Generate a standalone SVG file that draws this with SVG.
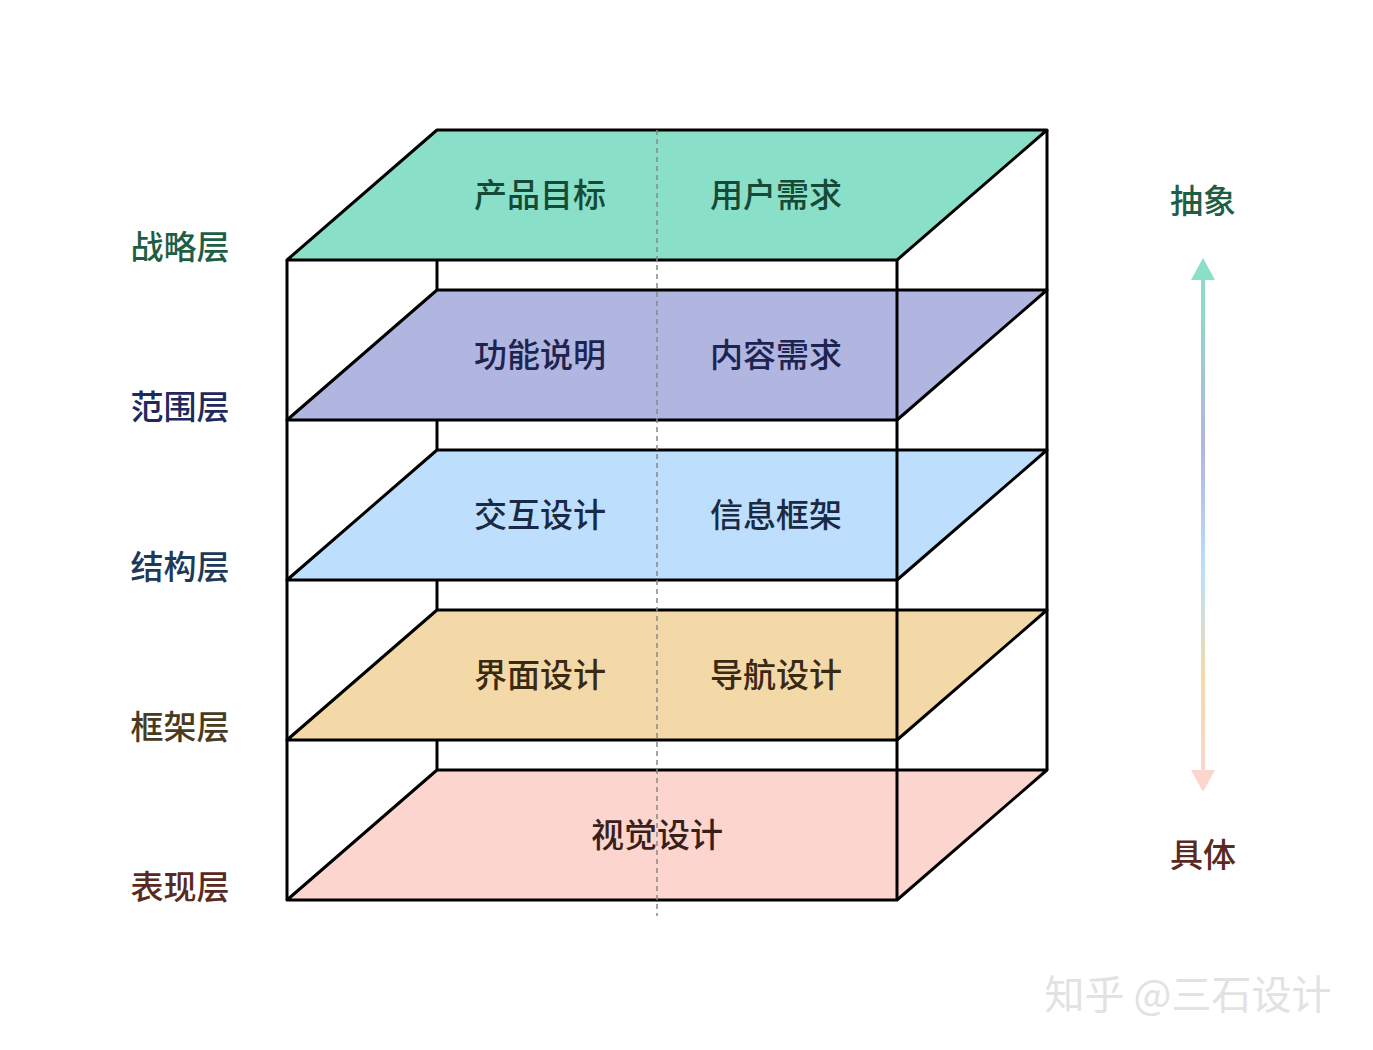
<svg xmlns="http://www.w3.org/2000/svg" width="1373" height="1050" viewBox="0 0 1373 1050">
<style>
.f{stroke:#000;stroke-width:3;stroke-linejoin:round}
.l{stroke:#000;stroke-width:3;fill:none}
.t{font-family:"Noto Sans CJK SC",sans-serif;font-size:33px;text-anchor:middle;font-weight:500}
.s{font-family:"Noto Sans CJK SC",sans-serif;font-size:33px;text-anchor:middle;font-weight:500}
</style>
<defs>
<linearGradient id="g" x1="0" y1="0" x2="0" y2="1">
<stop offset="0" stop-color="#8ADFC8"/><stop offset="0.35" stop-color="#B0B6E0"/><stop offset="0.6" stop-color="#BDDFFD"/><stop offset="0.8" stop-color="#F4D9A8"/><stop offset="1" stop-color="#FDD5CF"/>
</linearGradient>
</defs>
<rect width="1373" height="1050" fill="#fff"/>
<g id="frame">
<line class="l" x1="437" y1="260" x2="437" y2="290"/>
<line class="l" x1="437" y1="420" x2="437" y2="450"/>
<line class="l" x1="437" y1="580" x2="437" y2="610"/>
<line class="l" x1="437" y1="740" x2="437" y2="770"/>
</g>
<g id="layer5"><polygon class="f" fill="#FDD5CF" points="437,770 1047,770 897,900 287,900"/><text class="t" x="657" y="847" fill="#3a1e1a">视觉设计</text></g>
<g id="layer4"><polygon class="f" fill="#F4D9A8" points="437,610 1047,610 897,740 287,740"/><text class="t" x="540" y="687" fill="#3a2a14">界面设计</text><text class="t" x="776" y="687" fill="#3a2a14">导航设计</text></g>
<g id="layer3"><polygon class="f" fill="#BDDFFD" points="437,450 1047,450 897,580 287,580"/><text class="t" x="540" y="527" fill="#1a2a44">交互设计</text><text class="t" x="776" y="527" fill="#1a2a44">信息框架</text></g>
<g id="layer2"><polygon class="f" fill="#B0B6E0" points="437,290 1047,290 897,420 287,420"/><text class="t" x="540" y="367" fill="#1e2450">功能说明</text><text class="t" x="776" y="367" fill="#1e2450">内容需求</text></g>
<g id="layer1"><polygon class="f" fill="#8ADFC8" points="437,130 1047,130 897,260 287,260"/><text class="t" x="540" y="207" fill="#164a36">产品目标</text><text class="t" x="776" y="207" fill="#164a36">用户需求</text></g>
<g id="connectors">
<line class="l" x1="287" y1="260" x2="287" y2="900"/>
<line class="l" x1="897" y1="260" x2="897" y2="900"/>
<line class="l" x1="1047" y1="130" x2="1047" y2="770"/>
<line x1="657" y1="130" x2="657" y2="916" stroke="#888" stroke-width="1.5" stroke-dasharray="5,4"/>
<rect x="1201" y="276" width="4" height="497" fill="url(#g)"/>
<polygon points="1203,258 1191,280 1215,280" fill="#8ADFC8"/>
<polygon points="1203,792 1191,770 1215,770" fill="#FDD5CF"/>
</g>
<g id="labels">
<text class="s" x="180" y="259" fill="#1e5e45">战略层</text>
<text class="s" x="180" y="419" fill="#1e2a5e">范围层</text>
<text class="s" x="180" y="579" fill="#1e3a5a">结构层</text>
<text class="s" x="180" y="739" fill="#4a3a1e">框架层</text>
<text class="s" x="180" y="899" fill="#5a2a1e">表现层</text>
<text class="s" x="1203" y="213" font-size="39" fill="#1e5e45">抽象</text>
<text class="s" x="1203" y="867" font-size="39" fill="#5a2a1e">具体</text>
<text x="1188" y="1009" font-family="Noto Sans CJK SC,sans-serif" font-size="40" text-anchor="middle" fill="#e2e2e2">知乎 @三石设计</text>
</g>
</svg>
